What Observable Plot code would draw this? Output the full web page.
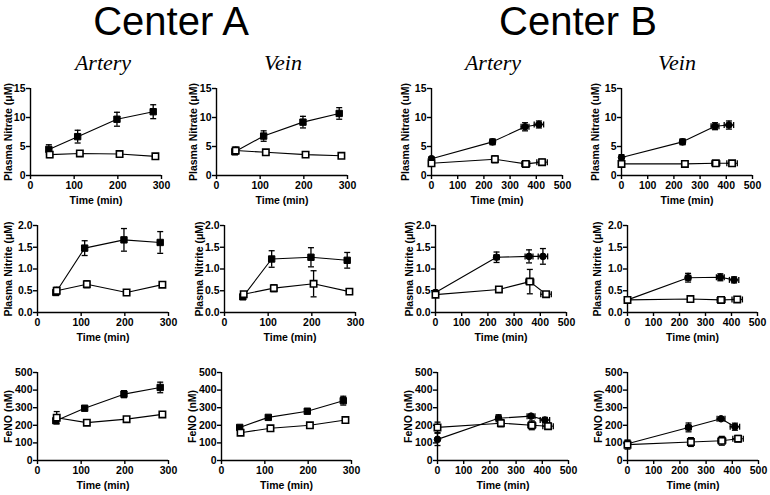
<!DOCTYPE html>
<html>
<head>
<meta charset="utf-8">
<script src="https://cdn.jsdelivr.net/npm/d3@7"></script>
<script src="https://cdn.jsdelivr.net/npm/@observablehq/plot@0.6"></script>
<style>
  html, body { margin: 0; padding: 0; background: #fff; }
  #wrap { position: relative; width: 770px; height: 495px; overflow: hidden; background: #fff; }
  .title { position: absolute; font-family: "Liberation Sans", Arial, sans-serif; font-size: 40px; color: #000; transform: translateX(-50%); white-space: nowrap; line-height: 1; }
  .sub { position: absolute; font-family: "Liberation Serif", "Times New Roman", serif; font-style: italic; font-size: 22px; color: #000; transform: translateX(-50%); white-space: nowrap; line-height: 1; }
</style>
</head>
<body>
<div id="wrap"></div>
<script>
// ---------- data ----------
const centers = ["Center A", "Center B"];
const vessels = ["Artery", "Vein"];

// sampling times (min)
const timeA_filled = [42, 108, 198, 281];
const timeA_open   = [44, 113, 204, 286];
const timeB_filled = [0, 233, 357, 410];
const timeB_filled_sd = [0, 10, 15, 18];
const timeB_open   = [0, 242, 360, 422];
const timeB_open_sd = [0, 10, 15, 20];

// Plasma nitrate (uM)
const nitrateA_art_filled = [4.5, 6.7, 9.7, 11.0];
const nitrateA_art_filled_sem = [0.8, 1.1, 1.2, 1.2];
const nitrateA_art_open = [3.6, 3.8, 3.7, 3.3];
const nitrateA_art_open_sem = [0.5, 0.4, 0.3, 0.3];
const nitrateA_vein_filled = [4.1, 6.8, 9.2, 10.7];
const nitrateA_vein_filled_sem = [0.5, 0.9, 1.0, 1.0];
const nitrateA_vein_open = [4.3, 4.0, 3.6, 3.4];
const nitrateA_vein_open_sem = [0.6, 0.4, 0.3, 0.3];
const nitrateB_art_filled = [2.9, 5.8, 8.4, 8.8];
const nitrateB_art_filled_sem = [0.3, 0.5, 0.7, 0.6];
const nitrateB_art_open = [2.1, 2.8, 2.0, 2.3];
const nitrateB_art_open_sem = [0.3, 0.6, 0.3, 0.5];
const nitrateB_vein_filled = [3.1, 5.8, 8.5, 8.7];
const nitrateB_vein_filled_sem = [0.5, 0.5, 0.6, 0.7];
const nitrateB_vein_open = [2.0, 2.0, 2.1, 2.1];
const nitrateB_vein_open_sem = [0.2, 0.2, 0.2, 0.2];

// Plasma nitrite (uM)
const nitriteA_art_filled = [0.46, 1.48, 1.67, 1.61];
const nitriteA_art_filled_sem = [0.06, 0.17, 0.26, 0.25];
const nitriteA_art_open = [0.50, 0.65, 0.46, 0.64];
const nitriteA_art_open_sem = [0.08, 0.08, 0.04, 0.06];
const nitriteA_vein_filled = [0.36, 1.23, 1.27, 1.20];
const nitriteA_vein_filled_sem = [0.04, 0.19, 0.22, 0.18];
const nitriteA_vein_open = [0.42, 0.56, 0.66, 0.48];
const nitriteA_vein_open_sem = [0.05, 0.08, 0.30, 0.04];
const nitriteB_art_filled = [0.46, 1.27, 1.29, 1.29];
const nitriteB_art_filled_sem = [0.05, 0.12, 0.15, 0.18];
const nitriteB_art_open = [0.41, 0.53, 0.71, 0.42];
const nitriteB_art_open_sem = [0.05, 0.03, 0.28, 0.04];
const nitriteB_vein_filled = [0.29, 0.80, 0.81, 0.75];
const nitriteB_vein_filled_sem = [0.03, 0.10, 0.08, 0.07];
const nitriteB_vein_open = [0.29, 0.31, 0.29, 0.30];
const nitriteB_vein_open_sem = [0.02, 0.02, 0.03, 0.03];

// FeNO (nM)
const fenoA_art_filled = [226, 297, 377, 415];
const fenoA_art_filled_sem = [15, 8, 20, 30];
const fenoA_art_open = [243, 215, 235, 262];
const fenoA_art_open_sem = [35, 10, 12, 12];
const fenoA_vein_filled = [188, 245, 280, 340];
const fenoA_vein_filled_sem = [10, 8, 12, 25];
const fenoA_vein_open = [158, 183, 200, 230];
const fenoA_vein_open_sem = [10, 8, 10, 12];
const fenoB_art_filled = [120, 240, 252, 230];
const fenoB_art_filled_sem = [35, 20, 10, 15];
const fenoB_art_open = [188, 212, 200, 195];
const fenoB_art_open_sem = [30, 20, 25, 18];
const fenoB_vein_filled = [95, 188, 237, 192];
const fenoB_vein_filled_sem = [20, 25, 8, 20];
const fenoB_vein_open = [90, 105, 112, 124];
const fenoB_vein_open_sem = [25, 25, 25, 18];

// axis ticks / labels
const xTicksA = [0, 100, 200, 300];
const xTicksB = [0, 100, 200, 300, 400, 500];
const yTicksNitrate = [0, 5, 10, 15];
const yTicksNitrite = [0, 0.5, 1.0, 1.5, 2.0];
const yTicksFeno = [0, 100, 200, 300, 400, 500];
const xLabel = "Time (min)";
const yLabelNitrateA = "Plasma Nitrate (\u03bcM)";
const yLabelNitrateB = "Plasma Nitrate (uM)";
const yLabelNitrite = "Plasma Nitrite (\u03bcM)";
const yLabelFeno = "FeNO (nM)";

// ---------- helpers ----------
function series(t, tsd, v, sem) {
  return v.map((y, i) => ({x: t[i], y, lo: y - sem[i], hi: y + sem[i], xlo: t[i] - (tsd ? tsd[i] : 0), xhi: t[i] + (tsd ? tsd[i] : 0), hasX: !!(tsd && tsd[i] > 0)}));
}
const hCap = {draw(ctx, size) { const w = Math.sqrt(size / Math.PI); ctx.moveTo(-w, 0); ctx.lineTo(w, 0); }};
const vCap = {draw(ctx, size) { const w = Math.sqrt(size / Math.PI); ctx.moveTo(0, -w); ctx.lineTo(0, w); }};

const wrap = document.getElementById("wrap");

function panel(cfg) {
  const mL = 48, mR = 14, mT = 10, mB = 38;
  const width = (cfg.x1 - cfg.x0) + mL + mR;
  const height = (cfg.yBot - cfg.yTop) + mT + mB;
  const F = cfg.filled, O = cfg.open;
  const errMarks = (d) => [
    Plot.ruleX(d, {x: "x", y1: "lo", y2: "hi", stroke: "#000", strokeWidth: 1.3}),
    Plot.dot(d, {x: "x", y: "lo", symbol: hCap, r: 3, stroke: "#000", fill: "none", strokeWidth: 1.3}),
    Plot.dot(d, {x: "x", y: "hi", symbol: hCap, r: 3, stroke: "#000", fill: "none", strokeWidth: 1.3}),
    Plot.ruleY(d.filter(e => e.hasX), {y: "y", x1: "xlo", x2: "xhi", stroke: "#000", strokeWidth: 1.3}),
    Plot.dot(d.filter(e => e.hasX), {x: "xlo", y: "y", symbol: vCap, r: 3, stroke: "#000", fill: "none", strokeWidth: 1.3}),
    Plot.dot(d.filter(e => e.hasX), {x: "xhi", y: "y", symbol: vCap, r: 3, stroke: "#000", fill: "none", strokeWidth: 1.3})
  ];
  const svg = Plot.plot({
    width, height, marginLeft: mL, marginRight: mR, marginTop: mT, marginBottom: mB,
    style: {fontFamily: "'Liberation Sans', Arial, sans-serif", fontWeight: "bold", fontSize: "10.5px", color: "#000", background: "transparent", overflow: "visible"},
    x: {domain: [0, cfg.xMax]},
    y: {domain: [0, cfg.yMax]},
    marks: [
      Plot.ruleY([0], {stroke: "#000", strokeWidth: 1.4}),
      Plot.ruleX([0], {stroke: "#000", strokeWidth: 1.4}),
      Plot.axisX({ticks: cfg.xTicks, tickSize: 4, tickPadding: 2, label: null, strokeWidth: 1.4}),
      Plot.axisY({ticks: cfg.yTicks, tickSize: 4, tickPadding: 1, label: null, strokeWidth: 1.4, tickFormat: cfg.yFmt}),
      Plot.text([xLabel], {text: d => d, frameAnchor: "bottom", textAnchor: "middle", lineAnchor: "middle", dy: 25, fontSize: 10.5, fontWeight: "bold"}),
      Plot.text([cfg.yLabel], {text: d => d, frameAnchor: "left", textAnchor: "middle", lineAnchor: "middle", rotate: -90, dx: -cfg.labelOff, fontSize: 10.5, fontWeight: "bold"}),
      Plot.line(F, {x: "x", y: "y", stroke: "#000", strokeWidth: 1.1}),
      Plot.line(O, {x: "x", y: "y", stroke: "#000", strokeWidth: 1.1}),
      ...errMarks(F),
      ...errMarks(O),
      Plot.dot(F, {x: "x", y: "y", symbol: cfg.filledSymbol, r: cfg.filledR, fill: "#000", stroke: "#000", strokeWidth: 1}),
      Plot.dot(O, {x: "x", y: "y", symbol: "square", r: 3.6, fill: "#fff", stroke: "#000", strokeWidth: 1.6})
    ]
  });
  svg.style.position = "absolute";
  svg.style.left = (cfg.x0 - mL) + "px";
  svg.style.top = (cfg.yTop - mT) + "px";
  wrap.appendChild(svg);
}

// ---------- titles ----------
function addText(cls, text, cx, top) {
  const d = document.createElement("div");
  d.className = cls; d.textContent = text;
  d.style.left = cx + "px"; d.style.top = top + "px";
  wrap.appendChild(d);
}
addText("title", centers[0], 171, 1);
addText("title", centers[1], 578, 1);
addText("sub", vessels[0], 103, 52);
addText("sub", vessels[1], 283, 52);
addText("sub", vessels[0], 493, 52);
addText("sub", vessels[1], 677, 52);

// ---------- panels ----------
const rows = [
  {yTop: 88, yBot: 175, yMax: 15, yTicks: yTicksNitrate, yFmt: d3.format("d")},
  {yTop: 225, yBot: 312, yMax: 2, yTicks: yTicksNitrite, yFmt: d3.format(".1f")},
  {yTop: 372, yBot: 460, yMax: 500, yTicks: yTicksFeno, yFmt: d3.format("d")}
];
const cols = [
  [{x0: 30, x1: 161, lab: 8}, {x0: 216, x1: 347, lab: 193}, {x0: 431, x1: 562, lab: 405}, {x0: 621, x1: 752, lab: 595}],
  [{x0: 37, x1: 168, lab: 8}, {x0: 224, x1: 355, lab: 199}, {x0: 435, x1: 566, lab: 409}, {x0: 627, x1: 757, lab: 597}],
  [{x0: 37, x1: 168, lab: 8}, {x0: 221, x1: 351, lab: 192}, {x0: 437, x1: 568, lab: 408}, {x0: 627, x1: 758, lab: 598}]
];
const panelsData = [
  [
    [series(timeA_filled, null, nitrateA_art_filled, nitrateA_art_filled_sem), series(timeA_open, null, nitrateA_art_open, nitrateA_art_open_sem), yLabelNitrateA],
    [series(timeA_filled, null, nitrateA_vein_filled, nitrateA_vein_filled_sem), series(timeA_open, null, nitrateA_vein_open, nitrateA_vein_open_sem), yLabelNitrateA],
    [series(timeB_filled, timeB_filled_sd, nitrateB_art_filled, nitrateB_art_filled_sem), series(timeB_open, timeB_open_sd, nitrateB_art_open, nitrateB_art_open_sem), yLabelNitrateB],
    [series(timeB_filled, timeB_filled_sd, nitrateB_vein_filled, nitrateB_vein_filled_sem), series(timeB_open, timeB_open_sd, nitrateB_vein_open, nitrateB_vein_open_sem), yLabelNitrateB]
  ],
  [
    [series(timeA_filled, null, nitriteA_art_filled, nitriteA_art_filled_sem), series(timeA_open, null, nitriteA_art_open, nitriteA_art_open_sem), yLabelNitrite],
    [series(timeA_filled, null, nitriteA_vein_filled, nitriteA_vein_filled_sem), series(timeA_open, null, nitriteA_vein_open, nitriteA_vein_open_sem), yLabelNitrite],
    [series(timeB_filled, timeB_filled_sd, nitriteB_art_filled, nitriteB_art_filled_sem), series(timeB_open, timeB_open_sd, nitriteB_art_open, nitriteB_art_open_sem), yLabelNitrite],
    [series(timeB_filled, timeB_filled_sd, nitriteB_vein_filled, nitriteB_vein_filled_sem), series(timeB_open, timeB_open_sd, nitriteB_vein_open, nitriteB_vein_open_sem), yLabelNitrite]
  ],
  [
    [series(timeA_filled, null, fenoA_art_filled, fenoA_art_filled_sem), series(timeA_open, null, fenoA_art_open, fenoA_art_open_sem), yLabelFeno],
    [series(timeA_filled, null, fenoA_vein_filled, fenoA_vein_filled_sem), series(timeA_open, null, fenoA_vein_open, fenoA_vein_open_sem), yLabelFeno],
    [series(timeB_filled, timeB_filled_sd, fenoB_art_filled, fenoB_art_filled_sem), series(timeB_open, timeB_open_sd, fenoB_art_open, fenoB_art_open_sem), yLabelFeno],
    [series(timeB_filled, timeB_filled_sd, fenoB_vein_filled, fenoB_vein_filled_sem), series(timeB_open, timeB_open_sd, fenoB_vein_open, fenoB_vein_open_sem), yLabelFeno]
  ]
];

rows.forEach((row, ri) => {
  cols[ri].forEach((c, ci) => {
    const isB = ci >= 2;
    const [F, O, yLabel] = panelsData[ri][ci];
    panel({
      x0: c.x0, x1: c.x1, yTop: row.yTop, yBot: row.yBot,
      xMax: isB ? 500 : 300, xTicks: isB ? xTicksB : xTicksA,
      yMax: row.yMax, yTicks: row.yTicks, yFmt: row.yFmt,
      yLabel, labelOff: c.x0 - c.lab,
      filled: F, open: O,
      filledSymbol: isB ? "circle" : "square", filledR: isB ? 3.3 : 3.6
    });
  });
});
</script>
</body>
</html>
